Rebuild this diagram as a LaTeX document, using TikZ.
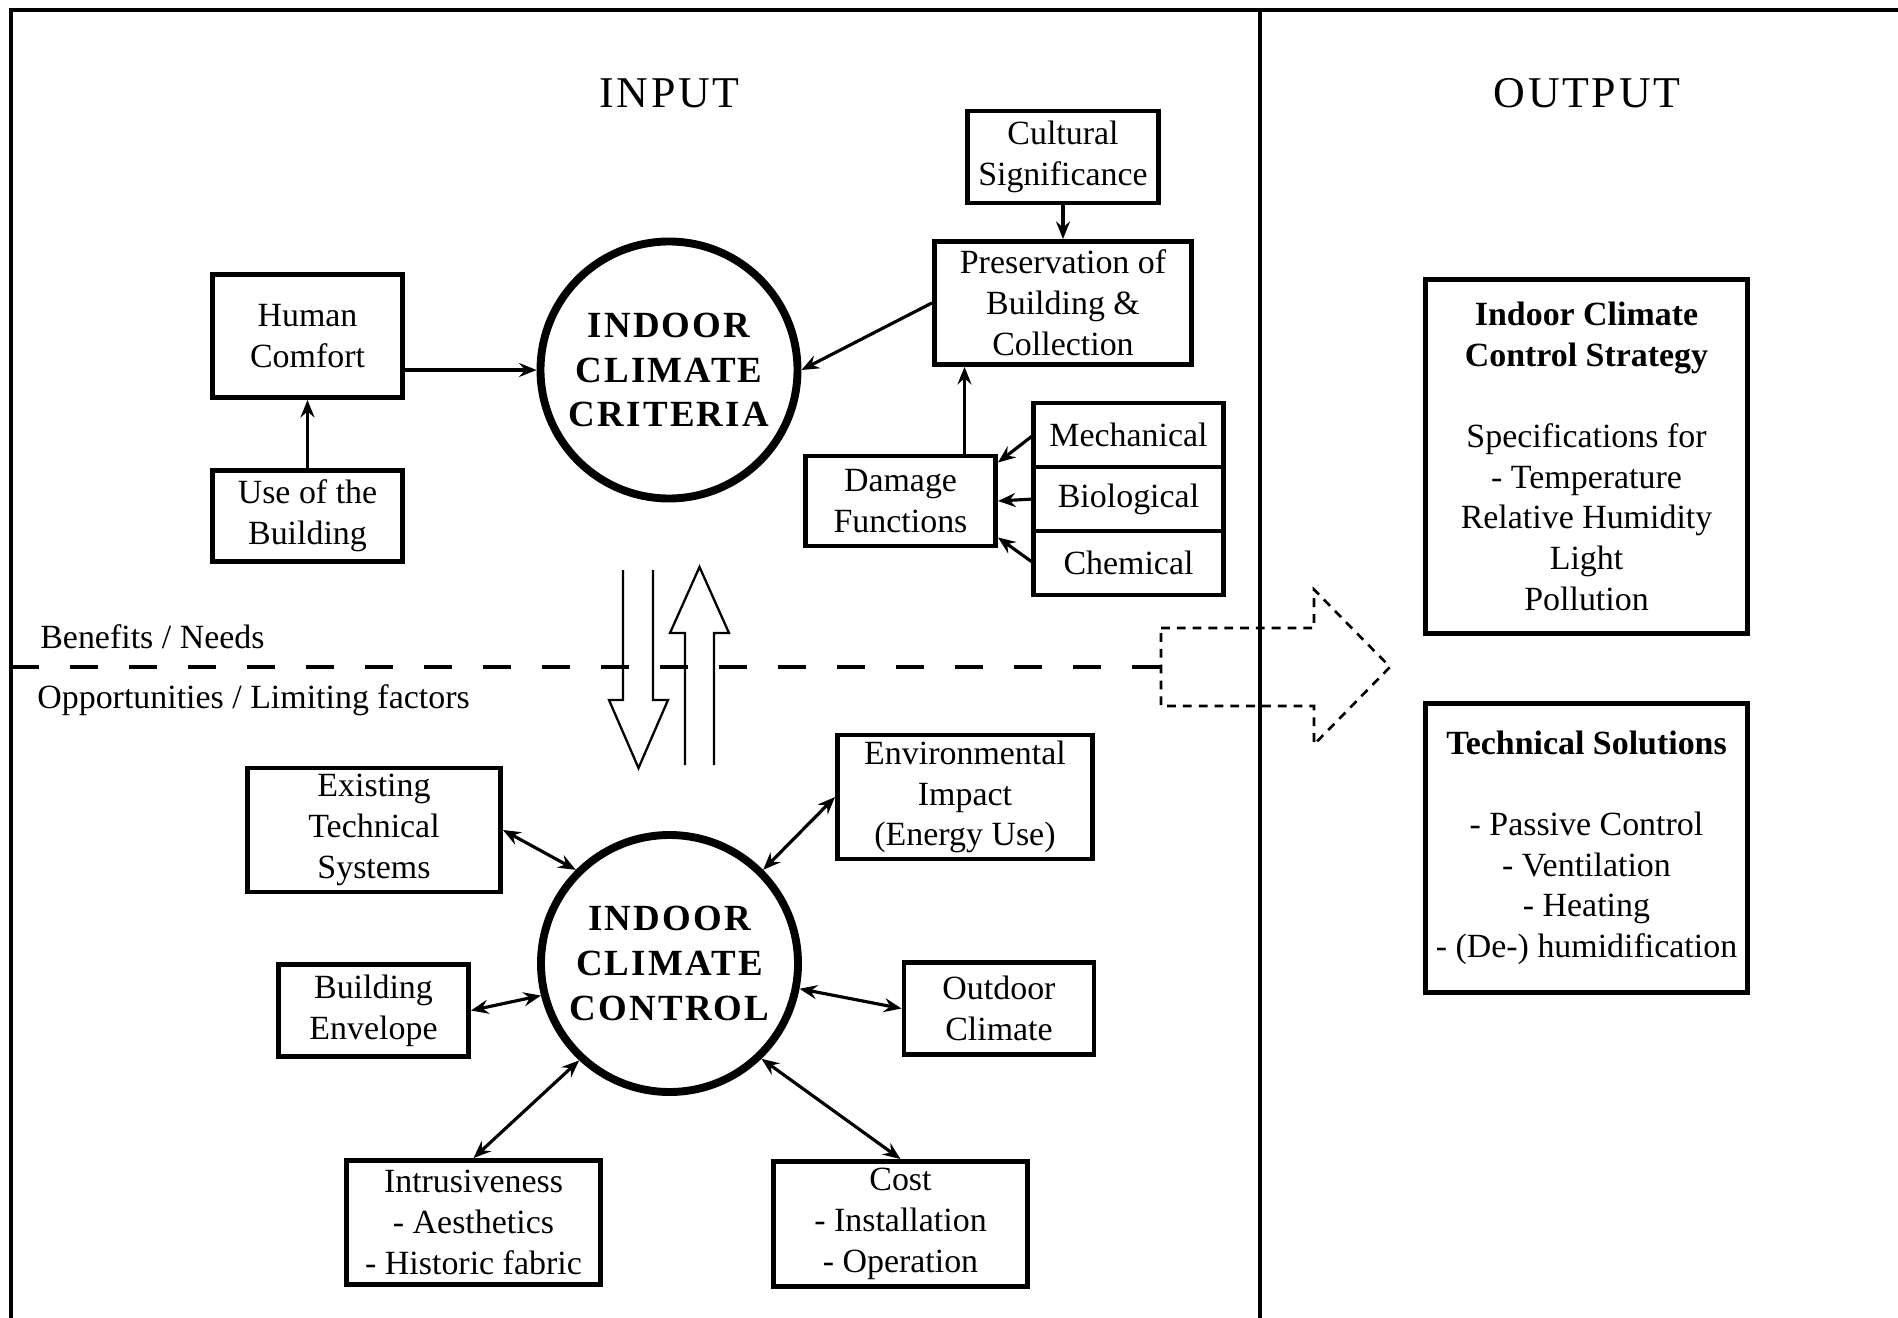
\documentclass[tikz,border=0pt]{standalone}
\usepackage{fontspec}
\setmainfont{Liberation Serif}
\newfontfamily\spacedserif[LetterSpace=6]{Liberation Serif}
\usetikzlibrary{arrows.meta,positioning,calc}
\newcommand\boxtext{\fontsize{19.3}{23.2}\selectfont}
\newcommand\hubtext{\spacedserif\bfseries\fontsize{21}{25.5}\selectfont}
\newcommand\headtext{\spacedserif\fontsize{25}{30}\selectfont}

\begin{document}
\begin{tikzpicture}[
  box/.style={draw, line width=2.8pt, align=center, inner sep=2pt, font=\boxtext},
  cell/.style={box, outer sep=0pt, minimum width=3.8cm, minimum height=1.28cm},
  hub/.style={circle, draw, line width=4.5pt, minimum size=5.14cm, inner sep=0pt, align=center, font=\hubtext},
  note/.style={inner sep=0pt, font=\boxtext},
  arr/.style={-{Stealth[length=10pt,width=8pt,inset=3.5pt]}, line width=1.8pt},
  dblarr/.style={{Stealth[length=10pt,width=8pt,inset=3.5pt]}-{Stealth[length=10pt,width=8pt,inset=3.5pt]}, line width=1.8pt},
  hollow/.style={line width=1.3pt, line join=miter},
  split/.style={line width=2.2pt, dash pattern=on 0.56cm off 0.62cm},
  flow/.style={line width=1.5pt, dash pattern=on 5pt off 4pt}
]
\useasboundingbox (0,0) rectangle (37.96,-26.36);

% frame and divider
\draw[line width=2.6pt] (0.22,-26.36) -- (0.22,-0.2) -- (37.96,-0.2);
\draw[line width=2.3pt] (25.2,-0.2) -- (25.2,-26.36);

\node[font=\headtext] (input) at (13.39,-1.86) {INPUT};
\node[font=\headtext] (output) at (31.74,-1.86) {OUTPUT};

% benefits / needs
\node[hub] (crit) at (13.38,-7.40) {INDOOR\\CLIMATE\\CRITERIA};
\node[box, minimum width=3.8cm, minimum height=2.46cm] (human) at (6.15,-6.72) {Human\\Comfort};
\node[box, minimum width=3.8cm, minimum height=1.82cm, below=1.36cm of human] (use) {Use of the\\Building};
\node[box, minimum width=3.82cm, minimum height=1.84cm] (cult) at (21.26,-3.14) {Cultural\\Significance};
\node[box, minimum width=5.14cm, minimum height=2.46cm, below=0.67cm of cult] (pres) {Preservation of\\Building \&\\Collection};
\node[box, minimum width=3.8cm, minimum height=1.80cm] (dmg) at (18.01,-10.02) {Damage\\Functions};
\node[cell] (mech) at (22.57,-8.70) {Mechanical};
\node[cell, below=0pt of mech] (bio) {Biological};
\node[cell, below=0pt of bio] (chem) {Chemical};

\draw[arr] (use) -- (human);
\draw[arr] (human.east |- crit) -- (crit.west);
\draw[arr] (cult) -- (pres);
\draw[arr] (pres.west) -- (crit.east);
\draw[arr] ([xshift=1.28cm]dmg.north) -- ([xshift=1.28cm]dmg.north |- pres.south);
\draw[arr] (mech.west) -- ([yshift=-0.18cm]dmg.north east);
\draw[arr] (bio.west) -- (dmg.east);
\draw[arr] (chem.west) -- ([yshift=0.22cm]dmg.south east);

% split line
\node[note, anchor=base west] (needs) at (0.80,-12.96) {Benefits / Needs};
\node[note, anchor=base west] (limits) at (0.74,-14.16) {Opportunities / Limiting factors};
\coordinate (gate) at (23.22,-13.34);
\draw[split] (0.22,-13.34) -- (gate);
\draw[flow] (23.22,-12.56) -- (26.28,-12.56) -- (26.28,-11.79) -- (27.80,-13.34)
  -- (26.28,-14.89) -- (26.28,-14.12) -- (23.22,-14.12) -- cycle;

% hollow arrows between the hubs
\draw[hollow] (12.46,-11.40) -- (12.46,-14.00) -- (12.18,-14.00) -- (12.77,-15.36)
  -- (13.36,-14.00) -- (13.06,-14.00) -- (13.06,-11.40);
\draw[hollow] (13.70,-15.30) -- (13.70,-12.66) -- (13.40,-12.66) -- (13.99,-11.34)
  -- (14.58,-12.66) -- (14.28,-12.66) -- (14.28,-15.30);

% opportunities / limiting factors
\node[hub] (ctrl) at (13.39,-19.27) {INDOOR\\CLIMATE\\CONTROL};
\node[box, minimum width=5.06cm, minimum height=2.48cm] (exist) at (7.48,-16.60) {Existing\\Technical\\Systems};
\node[box, minimum width=5.10cm, minimum height=2.48cm] (env) at (19.30,-15.94) {Environmental\\Impact\\(Energy Use)};
\node[box, minimum width=3.8cm, minimum height=1.84cm] (benv) at (7.47,-20.21) {Building\\Envelope};
\node[box, minimum width=3.8cm, minimum height=1.84cm] (outd) at (19.98,-20.17) {Outdoor\\Climate};
\node[box, minimum width=5.08cm, minimum height=2.48cm] (intr) at (9.47,-24.45) {Intrusiveness\\- Aesthetics\\- Historic fabric};
\node[box, minimum width=5.08cm, minimum height=2.50cm] (cost) at (18.01,-24.48) {Cost\\- Installation\\- Operation};

\draw[dblarr] (exist.east) -- (ctrl.135);
\draw[dblarr] (env.west) -- (ctrl.45);
\draw[dblarr] (benv.east) -- (ctrl.194);
\draw[dblarr] (outd.west) -- (ctrl.-11);
\draw[dblarr] (intr.north) -- (ctrl.227);
\draw[dblarr] (cost.north) -- (ctrl.-46);

% output
\node[box, minimum width=6.44cm, minimum height=7.08cm] (strategy) at (31.73,-9.13)
  {\textbf{Indoor Climate}\\\textbf{Control Strategy}\\[22.7pt]Specifications for\\- Temperature\\Relative Humidity\\Light\\Pollution};
\node[box, minimum width=6.44cm, minimum height=5.78cm] (solutions) at (31.73,-16.96)
  {\textbf{Technical Solutions}\\[22.7pt]- Passive Control\\- Ventilation\\- Heating\\- (De-) humidification};

\end{tikzpicture}
\end{document}
